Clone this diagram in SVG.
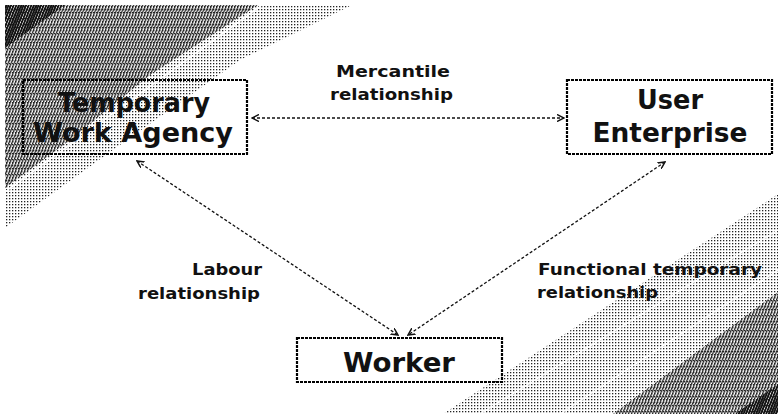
<svg xmlns="http://www.w3.org/2000/svg" width="778" height="414" viewBox="0 0 778 414">
  <style>
    .box { fill: none; stroke: #000; stroke-width: 2.2; stroke-dasharray: 3 1; }
    .node { font-family: "DejaVu Sans", "Liberation Sans", sans-serif; font-weight: bold; font-size: 26px; fill: #111; text-anchor: middle; }
    .lbl { font-family: "DejaVu Sans", "Liberation Sans", sans-serif; font-weight: bold; font-size: 16px; fill: #111; }
    .conn { fill: none; stroke: #111; stroke-width: 1.3; stroke-dasharray: 3 2; }
  </style>
  <defs>
    <pattern id="dots" width="3" height="3" patternUnits="userSpaceOnUse">
      <rect x="0" y="0" width="1.3" height="1.3" fill="#222"/>
    </pattern>
    <pattern id="stripes" width="3" height="6" patternUnits="userSpaceOnUse" patternTransform="skewX(-22)">
      <rect x="0" y="0" width="1.4" height="6" fill="#222"/>
    </pattern>
    <pattern id="dark" width="2.5" height="6" patternUnits="userSpaceOnUse" patternTransform="skewX(-22)">
      <rect x="0" y="0" width="1.7" height="6" fill="#111"/>
    </pattern>
    <marker id="ah" viewBox="0 0 8 8" refX="7" refY="4" markerWidth="8" markerHeight="8" markerUnits="userSpaceOnUse" orient="auto-start-reverse">
      <path d="M0,0.5 L7,4 L0,7.5" fill="none" stroke="#111" stroke-width="1.5"/>
    </marker>
  </defs>

  <rect width="778" height="414" fill="#fff"/>

  <g id="background">
    <polygon points="5,5 352,5 240,60 110,152 5,228" fill="url(#dots)"/>
    <polygon points="5,5 258,5 150,75 70,140 5,188" fill="url(#stripes)"/>
    <polygon points="5,5 65,5 5,48" fill="url(#dark)"/>
    <line x1="262" y1="5" x2="5" y2="192" stroke="#fff" stroke-width="1.5"/>
    <polygon points="443,414 778,194 778,414" fill="url(#dots)"/>
    <polygon points="613,414 778,292 778,414" fill="url(#stripes)"/>
    <polygon points="735,414 778,384 778,414" fill="url(#dark)"/>
    <line x1="480" y1="414" x2="778" y2="230" stroke="#fff" stroke-width="1.2"/>
    <line x1="560" y1="414" x2="778" y2="270" stroke="#fff" stroke-width="1.2"/>
  </g>

  <g id="connectors">
    <line class="conn" x1="252" y1="118" x2="564" y2="118" marker-start="url(#ah)" marker-end="url(#ah)"/>
    <line class="conn" x1="137" y1="161" x2="398" y2="335" marker-start="url(#ah)" marker-end="url(#ah)"/>
    <line class="conn" x1="665" y1="162" x2="408" y2="335" marker-start="url(#ah)" marker-end="url(#ah)"/>
  </g>

  <g id="agency">
    <rect class="box" x="23" y="80" width="224" height="74"/>
    <text class="node" x="134" y="112" textLength="152" lengthAdjust="spacingAndGlyphs">Temporary</text>
    <text class="node" x="133" y="142" textLength="200" lengthAdjust="spacingAndGlyphs">Work Agency</text>
  </g>

  <g id="enterprise">
    <rect class="box" x="567" y="80" width="205" height="74"/>
    <text class="node" x="670" y="109" textLength="66" lengthAdjust="spacingAndGlyphs">User</text>
    <text class="node" x="670" y="142" textLength="155" lengthAdjust="spacingAndGlyphs">Enterprise</text>
  </g>

  <g id="worker">
    <rect class="box" x="297" y="338" width="205" height="44"/>
    <text class="node" x="399" y="372" textLength="112" lengthAdjust="spacingAndGlyphs">Worker</text>
  </g>

  <g id="labels">
    <text class="lbl" x="336" y="77" textLength="114" lengthAdjust="spacingAndGlyphs">Mercantile</text>
    <text class="lbl" x="330" y="100" textLength="123" lengthAdjust="spacingAndGlyphs">relationship</text>
    <text class="lbl" x="192" y="275" textLength="70" lengthAdjust="spacingAndGlyphs">Labour</text>
    <text class="lbl" x="138" y="299" textLength="122" lengthAdjust="spacingAndGlyphs">relationship</text>
    <text class="lbl" x="538" y="275" textLength="224" lengthAdjust="spacingAndGlyphs">Functional temporary</text>
    <text class="lbl" x="537" y="298" textLength="121" lengthAdjust="spacingAndGlyphs">relationship</text>
  </g>
</svg>
